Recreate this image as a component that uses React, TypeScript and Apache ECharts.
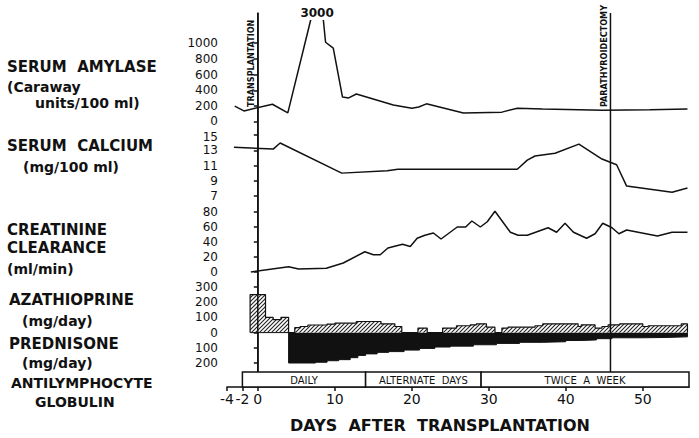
import React, { useEffect, useRef } from 'react';
import * as echarts from 'echarts';

// ---------- data ----------
const dayTicks = [-4, -2, 0, 10, 20, 30, 40, 50];
const amylaseTicks = [0, 200, 400, 600, 800, 1000];
const calciumTicks = [7, 9, 11, 13, 15];
const creatinineTicks = [0, 20, 40, 60, 80];
const drugTicks = [-200, -100, 0, 100, 200, 300];

// [day, Caraway units/100 ml]
const amylase: [number, number][] = [
  [-3, 200], [-1.8, 140], [1.9, 225], [3.9, 115], [6.9, 3000], [8.5, 3000],
  [8.8, 1010], [9.8, 935], [11.0, 315], [11.8, 305], [12.8, 355], [17.6, 215],
  [20, 175], [20.9, 190], [21.9, 230], [26.7, 115], [31.7, 125], [33.7, 175],
  [37, 165], [44.8, 150], [50.9, 155], [55.8, 165],
];
const amylasePeak = { day: 7.7, value: 3000 };

// [day, mg/100 ml]
const calcium: [number, number][] = [
  [-3.1, 13.4], [2.0, 13.15], [2.9, 13.95], [10.9, 10.0], [16.8, 10.3], [18.2, 10.5],
  [33.7, 10.5], [35.0, 11.7], [36.0, 12.25], [38.6, 12.6], [41.7, 13.8], [44.7, 11.85],
  [46.6, 11.1], [47.9, 8.3], [53.8, 7.5], [55.8, 8.05],
];

// [day, ml/min]
const creatinine: [number, number][] = [
  [-0.9, 0], [4.0, 7], [5.3, 4], [8.9, 5], [11.1, 12], [13.9, 27], [15.0, 23], [15.9, 23],
  [16.9, 32], [18.8, 37], [19.8, 34], [20.7, 45], [21.7, 49], [22.8, 52], [23.8, 44],
  [25.9, 60], [27, 60], [27.8, 68], [28.9, 60], [29.8, 67], [30.8, 81], [32.8, 53],
  [33.8, 49], [35, 49], [37.7, 59], [38.8, 53], [39.9, 65], [41, 53], [42.7, 45],
  [43.8, 51], [44.8, 65], [46, 59], [46.9, 51], [47.9, 56], [51.9, 48], [53.8, 53], [55.8, 53],
];

// [day the dose starts, mg/day]
const azathioprine: [number, number][] = [
  [-1, 0], [-1, 250], [1, 100], [2, 85], [3, 100], [4, 0], [4.8, 33], [5.5, 40], [6.5, 50],
  [9, 56], [10, 62], [12.8, 73], [16, 58], [17.8, 40], [18.7, 0], [20.8, 30], [22, 0],
  [24, 30], [25.8, 45], [27.6, 51], [28.4, 58], [29.7, 36], [30.8, 0], [31.7, 30],
  [32.5, 36], [36, 45], [37, 58], [41.6, 40], [42, 51], [43.8, 30], [44.7, 40], [45.5, 51],
  [47, 58], [50, 40], [50.7, 45], [55, 58], [55.8, 0],
];
const prednisone: [number, number][] = [
  [-1, 0], [4, 200], [7.5, 195], [9, 185], [10.5, 178], [12, 165], [13, 150], [14, 140],
  [15.5, 130], [17, 125], [19, 115], [21, 104], [23, 95], [25, 89], [28, 80], [31, 71],
  [34, 64], [37, 60], [40, 52], [42, 48], [44, 40], [46, 34], [50, 32], [53, 28], [55.8, 0],
];

// antilymphocyte globulin schedule: [from day, to day, label]
const algPhases: [number, number, string][] = [
  [-2, 14, 'DAILY'], [14, 29, 'ALTERNATE  DAYS'], [29, 56, 'TWICE  A  WEEK'],
];
const events: [number, string][] = [[0, 'TRANSPLANTATION'], [45.8, 'PARATHYROIDECTOMY']];

const leftLabels: { text: string; x: number; y: number; size: number }[] = [
  { text: 'SERUM  AMYLASE', x: 7, y: 67, size: 15 },
  { text: '(Caraway', x: 7, y: 87, size: 14 },
  { text: 'units/100 ml)', x: 35, y: 103, size: 14 },
  { text: 'SERUM  CALCIUM', x: 7, y: 146, size: 15 },
  { text: '(mg/100 ml)', x: 23, y: 167, size: 14 },
  { text: 'CREATININE', x: 7, y: 230, size: 15 },
  { text: 'CLEARANCE', x: 7, y: 248, size: 15 },
  { text: '(ml/min)', x: 7, y: 269, size: 14 },
  { text: 'AZATHIOPRINE', x: 9, y: 300, size: 15 },
  { text: '(mg/day)', x: 22, y: 321, size: 14 },
  { text: 'PREDNISONE', x: 9, y: 344, size: 15 },
  { text: '(mg/day)', x: 22, y: 363, size: 14 },
  { text: 'ANTILYMPHOCYTE', x: 11, y: 383, size: 14 },
  { text: 'GLOBULIN', x: 35, y: 402, size: 14 },
];

// ---------- styles ----------
const FONT = 'DejaVu Sans, Liberation Sans, sans-serif';
const INK = '#111';
const hatchSvg =
  "<svg xmlns='http://www.w3.org/2000/svg' width='4' height='4'><rect width='4' height='4' fill='white'/>" +
  "<path d='M-1,1 L1,-1 M0,4 L4,0 M3,5 L5,3' stroke='#222' stroke-width='1.1'/></svg>";
const hatch = 'data:image/svg+xml;charset=utf-8,' + encodeURIComponent(hatchSvg);

const GL = 227;
const GR = 10;

function hiddenX(gridIndex: number) {
  return {
    type: 'value', gridIndex, min: -4, max: 56, show: false,
    splitLine: { show: false },
  };
}

// edge: which tick value sits next to a neighbouring panel and should be nudged away from it
function valueY(
  gridIndex: number, min: number, max: number, ticks: number[],
  fmt?: (v: number) => string, nudgeUp?: number, nudgeDown?: number,
) {
  return {
    type: 'value', gridIndex, min, max,
    axisLine: { show: false },
    splitLine: { show: false },
    axisTick: { show: true, customValues: ticks, length: 4, lineStyle: { color: INK, width: 1.5 } },
    axisLabel: {
      customValues: ticks, margin: 9, color: INK, fontSize: 12, lineHeight: 12, fontFamily: FONT,
      formatter: (v: number) => {
        const s = fmt ? fmt(v) : String(v);
        if (nudgeUp !== undefined && v === nudgeUp) return `{up|${s}}`;
        if (nudgeDown !== undefined && v === nudgeDown) return `{dn|${s}}`;
        return s;
      },
      rich: {
        up: { fontSize: 12, lineHeight: 12, fontFamily: FONT, color: INK, padding: [0, 0, 3, 0] },
        dn: { fontSize: 12, lineHeight: 12, fontFamily: FONT, color: INK, padding: [3, 0, 0, 0] },
      },
    },
  };
}

export default function App() {
  const ref = useRef<HTMLDivElement>(null);
  useEffect(() => {
    if (!ref.current) return;
    const chart = echarts.init(ref.current, undefined, { renderer: 'svg' });
    const option: any = {
      animation: false,
      backgroundColor: '#fff',
      textStyle: { fontFamily: FONT },
      grid: [
        { left: GL, right: GR, top: 13, bottom: 51 },
        { left: GL, right: GR, top: 19, height: 103 },
        { left: GL, right: GR, top: 135, height: 61 },
        { left: GL, right: GR, top: 212, height: 60 },
        { left: GL, right: GR, top: 287, height: 76 },
        { left: GL, right: GR, top: 372, height: 15 },
      ],
      xAxis: [
        {
          type: 'value', gridIndex: 0, min: -4, max: 56,
          splitLine: { show: false },
          axisLine: { show: true, onZero: false, lineStyle: { color: INK, width: 1.5 } },
          axisTick: { show: true, customValues: dayTicks, length: 4, lineStyle: { color: INK, width: 1.5 } },
          axisLabel: { customValues: dayTicks, margin: 5, color: INK, fontSize: 14, fontFamily: FONT },
        },
        hiddenX(1), hiddenX(2), hiddenX(3), hiddenX(4), hiddenX(5),
      ],
      yAxis: [
        {
          type: 'value', gridIndex: 0, min: 0, max: 1,
          axisLine: { show: true, lineStyle: { color: INK, width: 1.5 } },
          axisTick: { show: false }, axisLabel: { show: false }, splitLine: { show: false },
        },
        {
          ...valueY(1, 0, 3000, amylaseTicks, undefined, 0),
          breaks: [{ start: 1100, end: 2900, gap: 104 }],
          breakArea: { show: false },
        },
        valueY(2, 7, 15, calciumTicks, undefined, undefined, 15),
        valueY(3, 0, 80, creatinineTicks),
        valueY(4, -200, 300, drugTicks, (v: number) => String(Math.abs(v))),
        { type: 'category', gridIndex: 5, data: ['ALG'], show: false },
      ],
      graphic: [
        ...leftLabels.map((l) => ({
          type: 'text', x: l.x, y: l.y,
          style: {
            text: l.text, fill: INK, font: `bold ${l.size}px ${FONT}`,
            textVerticalAlign: 'middle', verticalAlign: 'middle',
          },
        })),
        {
          type: 'text', x: 440, y: 425,
          style: {
            text: 'DAYS  AFTER  TRANSPLANTATION', fill: INK, font: `bold 16px ${FONT}`,
            textAlign: 'center', align: 'center', textVerticalAlign: 'middle', verticalAlign: 'middle',
          },
        },
      ],
      series: [
        {
          type: 'custom', xAxisIndex: 0, yAxisIndex: 0, z: 5,
          data: events.map((e) => [e[0]]),
          renderItem: (params: any, api: any) => {
            const d = api.value(0);
            const b = api.coord([d, 0]);
            const t = api.coord([d, 1]);
            return {
              type: 'group',
              children: [
                { type: 'line', shape: { x1: b[0], y1: t[1], x2: b[0], y2: b[1] }, style: { stroke: INK, lineWidth: 1.5 } },
                {
                  type: 'text', x: b[0] - 6.5, y: t[1] + 94, rotation: Math.PI / 2,
                  style: {
                    text: events[params.dataIndex][1], fill: INK,
                    font: 'bold 9px "Liberation Sans Narrow", "DejaVu Sans Condensed", sans-serif',
                    align: 'left', textAlign: 'left', verticalAlign: 'middle', textVerticalAlign: 'middle',
                  },
                },
              ],
            };
          },
        },
        {
          type: 'line', xAxisIndex: 1, yAxisIndex: 1, data: amylase, showSymbol: false, clip: false,
          lineStyle: { color: INK, width: 1.5 }, z: 3,
          markPoint: {
            silent: true,
            symbol: 'rect', symbolSize: [24, 14], symbolOffset: [0, -6],
            itemStyle: { color: '#fff' },
            label: { show: true, position: 'inside', color: INK, fontSize: 12, fontWeight: 'bold', fontFamily: FONT, formatter: String(amylasePeak.value) },
            data: [{ coord: [amylasePeak.day, amylasePeak.value] }],
          },
        },
        {
          type: 'line', xAxisIndex: 2, yAxisIndex: 2, data: calcium, showSymbol: false, clip: false,
          lineStyle: { color: INK, width: 1.5 },
        },
        {
          type: 'line', xAxisIndex: 3, yAxisIndex: 3, data: creatinine, showSymbol: false, clip: false,
          lineStyle: { color: INK, width: 1.5 },
        },
        {
          type: 'line', xAxisIndex: 4, yAxisIndex: 4, data: prednisone.map(([d, v]) => [d, -v]),
          step: 'end', showSymbol: false, clip: false,
          lineStyle: { color: INK, width: 1 },
          areaStyle: { color: INK, opacity: 1 },
        },
        {
          type: 'line', xAxisIndex: 4, yAxisIndex: 4, data: azathioprine,
          step: 'end', showSymbol: false, clip: false,
          lineStyle: { color: INK, width: 1.2 },
          areaStyle: { color: { image: hatch, repeat: 'repeat', imageWidth: 4, imageHeight: 4 }, opacity: 1 },
        },
        {
          type: 'custom', xAxisIndex: 5, yAxisIndex: 5, z: 10,
          encode: { x: [0, 1], y: 2 },
          data: algPhases.map((p) => [p[0], p[1], 0]),
          renderItem: (params: any, api: any) => {
            const s = api.coord([api.value(0), 0]);
            const e = api.coord([api.value(1), 0]);
            const h = api.size([0, 1])[1];
            return {
              type: 'group',
              children: [
                {
                  type: 'rect', shape: { x: s[0], y: s[1] - h / 2, width: e[0] - s[0], height: h },
                  style: { fill: '#fff', stroke: INK, lineWidth: 1.5 },
                },
                {
                  type: 'text', x: (s[0] + e[0]) / 2, y: s[1] + 0.5,
                  style: {
                    text: algPhases[params.dataIndex][2], fill: INK, font: `10px ${FONT}`,
                    align: 'center', textAlign: 'center', verticalAlign: 'middle', textVerticalAlign: 'middle',
                  },
                },
              ],
            };
          },
        },
      ],
    };
    chart.setOption(option);
    return () => chart.dispose();
  }, []);
  return <div ref={ref} style={{ position: 'fixed', left: 0, top: 0, width: 699, height: 438 }} />;
}
